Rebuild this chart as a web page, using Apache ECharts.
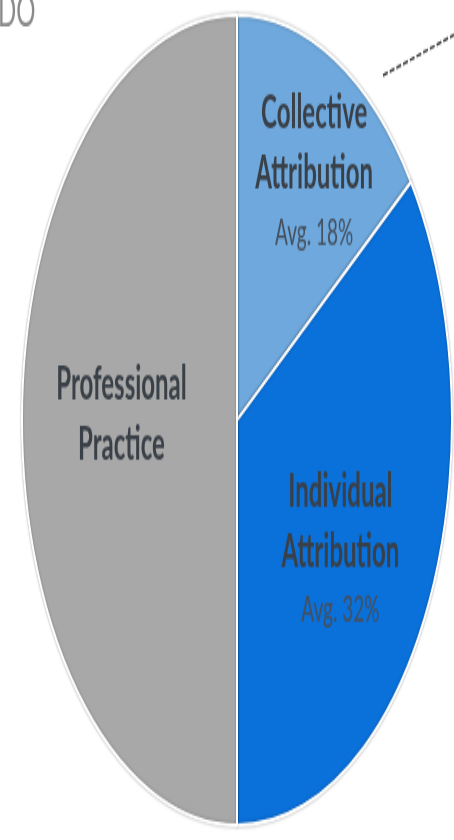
<!DOCTYPE html>
<html>
<head>
<meta charset="utf-8">
<script src="https://cdn.jsdelivr.net/npm/echarts@6/dist/echarts.min.js"></script>
<style>
  html, body { margin: 0; padding: 0; background: #fff; }
  #wrap { width: 454px; height: 840px; position: relative; overflow: hidden; }
  /* the reference pie is stretched into a tall ellipse, so the chart is scaled vertically */
  #chart { position: absolute; left: 0; top: 0; width: 454px; height: 446px;
           transform: scale(1, 1.884); transform-origin: 0 0; }
</style>
</head>
<body>
<div id="wrap"><div id="chart"></div></div>
<script>
// slices, clockwise from 12 o'clock
var names = ['Collective\nAttribution', 'Individual\nAttribution', 'Professional\nPractice'];
var shares = [15, 35, 50];            // share of the drawn pie
var avgLabels = ['Avg. 18%', 'Avg. 32%', ''];
var colors = ['#6ea8dd', '#0a70da', '#a8a8a8'];

var chart = echarts.init(document.getElementById('chart'));

// nudges for the inside labels
var labelShift = [[27, -33], [5, 19], [-5, -3]];

chart.setOption({
  animation: false,
  backgroundColor: '#ffffff',
  graphic: [
    {
      type: 'text', left: -2, top: -6,
      style: { text: 'DO', fontFamily: 'Lato', fontSize: 24, fill: '#8a8a8a' }
    },
    {
      type: 'line',
      shape: { x1: 383, y1: 40, x2: 454, y2: 18.5 },
      style: { stroke: '#444', lineWidth: 1.5, lineDash: [5, 2] }
    }
  ],
  series: [
    {
      type: 'pie',
      center: [237, 223],
      radius: [0, 215],
      startAngle: 90,
      clockwise: true,
      silent: true,
      itemStyle: {
        borderColor: '#ffffff',
        borderWidth: 2,
        shadowColor: 'rgba(0,0,0,0.35)',
        shadowBlur: 2
      },
      label: {
        show: true,
        position: 'inside',
        formatter: function (p) {
          var s = '{n|' + names[p.dataIndex] + '}';
          if (avgLabels[p.dataIndex]) s += '\n{a|' + avgLabels[p.dataIndex] + '}';
          return s;
        },
        rich: {
          n: { fontFamily: 'Liberation Sans Narrow, Lato', fontSize: 24, fontWeight: 'bold', lineHeight: 32, color: '#3a4048' },
          a: { fontFamily: 'Liberation Sans Narrow, Lato', fontSize: 19, lineHeight: 30, color: '#45505e' }
        }
      },
      labelLine: { show: false },
      labelLayout: function (params) {
        var d = labelShift[params.dataIndex];
        return { dx: d[0], dy: d[1] };
      },
      data: shares.map(function (v, i) {
        return { value: v, name: names[i], itemStyle: { color: colors[i] } };
      })
    }
  ]
});
</script>
</body>
</html>
